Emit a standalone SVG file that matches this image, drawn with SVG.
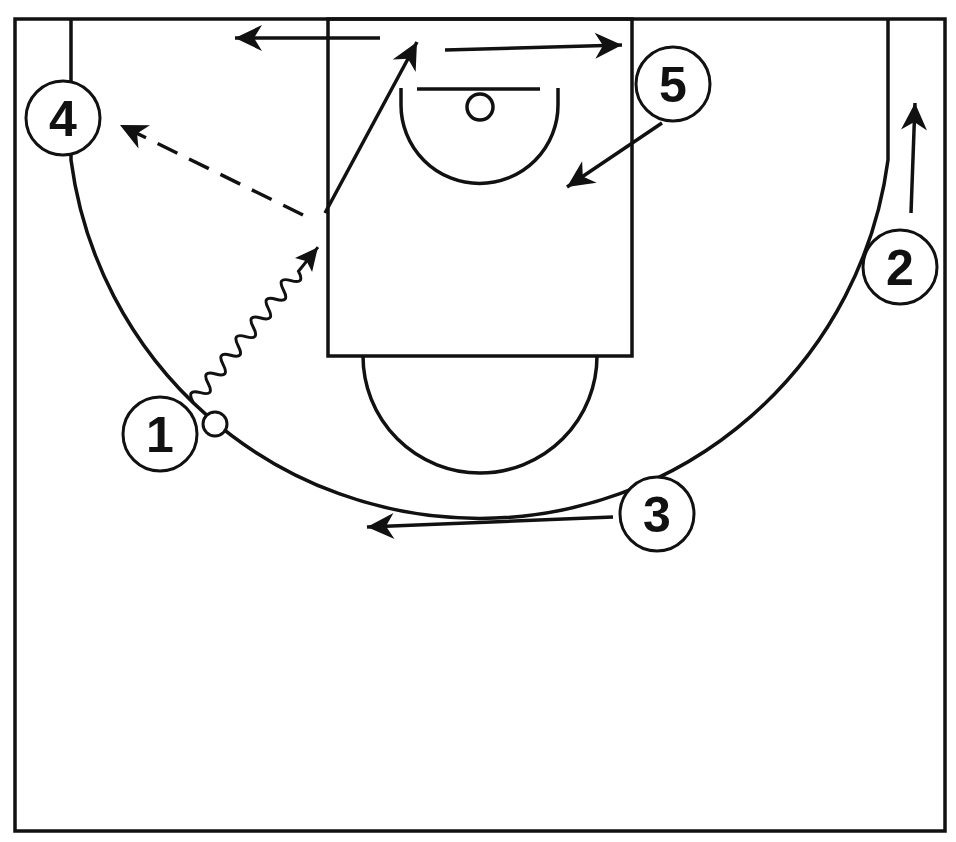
<svg xmlns="http://www.w3.org/2000/svg" width="956" height="842" viewBox="0 0 956 842">
<style>
.court{fill:none;stroke:#111;stroke-width:3.5}
.mv{fill:none;stroke:#111;stroke-width:3.5;marker-end:url(#ah)}
.dash{stroke-dasharray:22 13}
.pl circle{fill:#fff;stroke:#111;stroke-width:3}
.pl text{font-family:"Liberation Sans",Arial,sans-serif;font-weight:bold;font-size:50px;fill:#111;text-anchor:middle}
</style>
<defs>
<marker id="ah" markerUnits="userSpaceOnUse" markerWidth="30" markerHeight="30" viewBox="0 0 30 30" refX="28" refY="15" orient="auto">
<path d="M1,2 L28,15 L1,28 L9,15 Z" fill="#111"/>
</marker>
<marker id="ah2" markerUnits="userSpaceOnUse" markerWidth="26" markerHeight="26" viewBox="0 0 26 26" refX="24" refY="13" orient="auto">
<path d="M1,2 L24,13 L1,24 L6,13 Z" fill="#111"/>
</marker>
</defs>
<rect width="956" height="842" fill="#fff"/>
<g id="court">
<rect class="court" x="15" y="19" width="930" height="812" stroke-width="4"/>
<path class="court" d="M71,19 L71,160 A412,412 0 0 0 888,160 L888,19"/>
<rect class="court" x="328" y="19" width="304" height="337"/>
<path class="court" d="M363,356 A117,117 0 0 0 597,356"/>
<path class="court" d="M401,88 L401,105 A78.5,78.5 0 0 0 558,105 L558,88"/>
<path class="court" d="M417,89 L540,89"/>
<circle class="court" cx="480" cy="107" r="13"/>
</g>
<g id="connectors">
<path class="mv" d="M380,38 L235,38"/>
<path class="mv" d="M445,50 L622,45"/>
<path class="mv" d="M325,213 L417,42"/>
<path class="mv dash" d="M303,215 L120,125"/>
<path class="mv" d="M662,123 L567,187"/>
<path class="mv" d="M911,213 L915,103"/>
<path class="mv" d="M613,517 L367,527"/>
<path d="M0,0 q6,-14 12,0 t12,0 t12,0 t12,0 t12,0 t12,0 t12,0 t12,0 t12,0 t12,0 t12,0 t12,0 t12,0 t12,0 L199,0" fill="none" stroke="#111" stroke-width="3" marker-end="url(#ah2)" transform="translate(193,402) rotate(-51.1)"/>
</g>
<g id="ball"><circle cx="215" cy="424" r="12" fill="#fff" stroke="#111" stroke-width="3"/></g>
<g id="p1" class="pl"><circle cx="160" cy="434" r="37"/><text x="160" y="452">1</text></g>
<g id="p2" class="pl"><circle cx="900" cy="267" r="37"/><text x="900" y="285">2</text></g>
<g id="p3" class="pl"><circle cx="657" cy="514" r="37"/><text x="657" y="532">3</text></g>
<g id="p4" class="pl"><circle cx="63" cy="118" r="37"/><text x="63" y="136">4</text></g>
<g id="p5" class="pl"><circle cx="673" cy="84" r="37"/><text x="673" y="102">5</text></g>
</svg>
